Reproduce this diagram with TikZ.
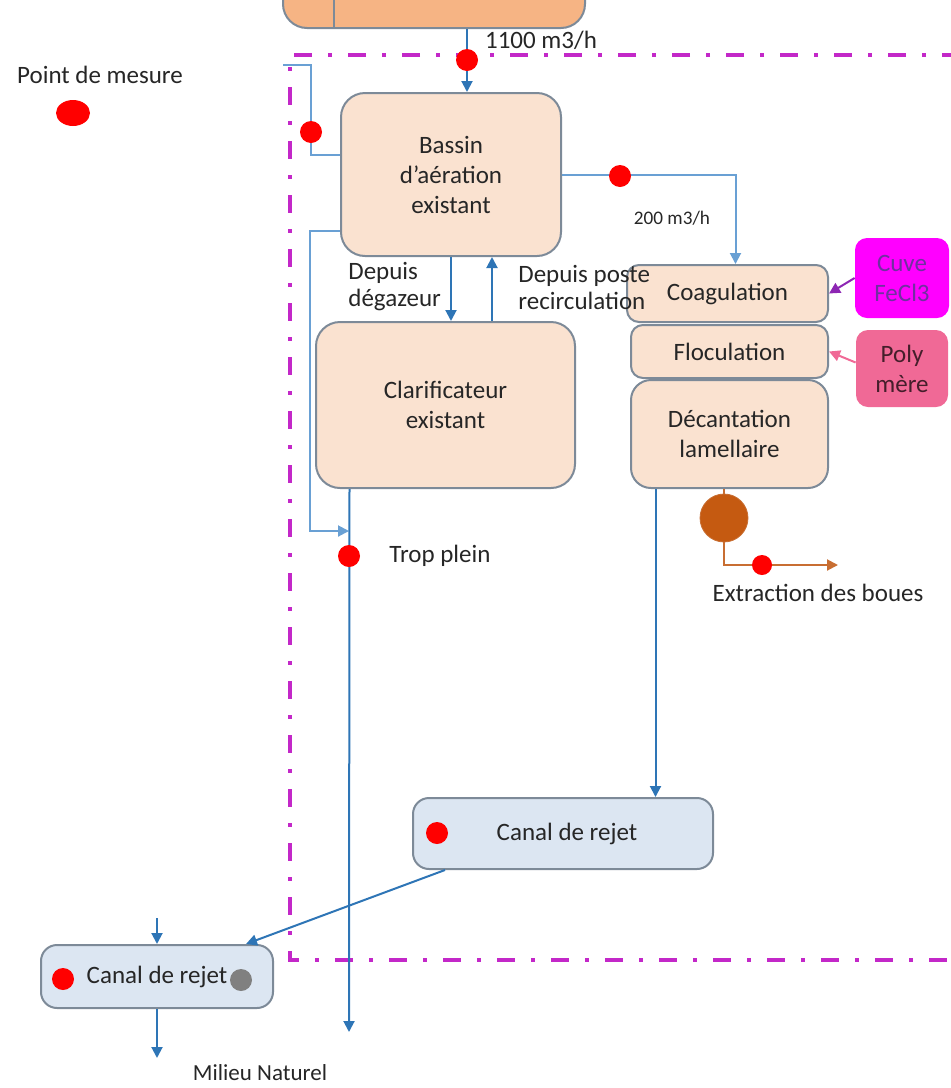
\documentclass[tikz,border=0pt]{standalone}
\usepackage{fontspec}
\setmainfont{Carlito}
\usetikzlibrary{calc, arrows.meta, shapes.geometric}
\definecolor{Peche}{RGB}{250,226,208}
\definecolor{OrangeAmont}{RGB}{246,180,132}
\definecolor{BleuPale}{RGB}{220,230,242}
\definecolor{Bord}{RGB}{125,138,152}
\definecolor{Tuyau}{RGB}{46,117,182}
\definecolor{TuyauClair}{RGB}{105,160,212}
\definecolor{Cadre}{RGB}{195,40,200}
\definecolor{CuveRose}{RGB}{255,0,255}
\definecolor{CuveTexte}{RGB}{112,48,160}
\definecolor{PolyRose}{RGB}{240,105,150}
\definecolor{Boue}{RGB}{197,90,17}
\definecolor{BoueTrait}{RGB}{200,110,50}
\definecolor{Texte}{RGB}{38,38,38}
\newcommand{\TxtSize}{\fontsize{12.5}{15}\selectfont}
\newcommand{\SmallSize}{\fontsize{9.6}{11}\selectfont}
\tikzset{PeachBox/.style={
    rounded corners=12pt,
    draw=Bord,
    line width=1pt,
    fill=Peche,
    align=center,
    inner sep=0pt,
    font=\TxtSize,
    text=Texte
    }
}
\tikzset{SmallPeachBox/.style={
    PeachBox,
    rounded corners=6pt
    }
}
\tikzset{BlueBox/.style={
    PeachBox,
    fill=BleuPale,
    rounded corners=8pt
    }
}
\tikzset{ReactifBox/.style={
    rounded corners=6pt,
    align=center,
    inner sep=0pt,
    font=\TxtSize
    }
}
\tikzset{Pipe/.style={draw=Tuyau, line width=1pt}}
\tikzset{LightPipe/.style={draw=TuyauClair, line width=1pt}}
\tikzset{SludgePipe/.style={draw=BoueTrait, line width=1pt}}
\tikzset{RedDot/.style={circle, fill=red, inner sep=0pt, minimum size=11pt}}
\tikzset{Label/.style={font=\TxtSize, text=Texte, inner sep=0pt}}
\tikzset{Frame/.style={draw=Cadre, line width=1.6pt,
    dash pattern=on 9pt off 8pt on 2pt off 8pt}}

\begin{document}
\begin{tikzpicture}[x=0.5pt, y=-0.5pt, >={Triangle[length=5.5pt,width=5.5pt]}]
    \useasboundingbox (0,0) rectangle (950,1088);

    % legende
    \node (Legende)[Label] at (100,75) {Point de mesure};
    \node (LegendeDot)[ellipse, fill=red, inner sep=0pt, minimum width=17pt, minimum height=13pt] at (73,113) {};

    % limite du projet
    \draw[Frame] (960,55) -- (290,55) -- (290,960) -- (960,960);

    \node (Amont)[draw=Bord, fill=OrangeAmont, line width=1pt, rounded corners=12pt,
        minimum width=151pt, minimum height=40pt, inner sep=0pt] at (434,-12) {};
    \draw[draw=Bord, line width=1pt] ([xshift=26pt]Amont.north west) -- ([xshift=26pt]Amont.south west);

    \node (Bassin)[PeachBox, minimum width=110pt, minimum height=81.5pt] at (451,174.5)
        {Bassin\\ d'aération\\ existant};

    \node (Clarif)[PeachBox, minimum width=129.5pt, minimum height=83pt] at (445.5,405)
        {Clarificateur\\ existant};

    \node (Coag)[SmallPeachBox, minimum width=100.5pt, minimum height=28.5pt] at (727.5,293.5)
        {\raisebox{-4pt}{Coagulation}};
    \node (Floc)[SmallPeachBox, minimum width=98.5pt, minimum height=26.5pt] at (729.5,351.5)
        {Floculation};
    \node (Decant)[PeachBox, rounded corners=10pt, minimum width=98.5pt, minimum height=54pt] at (729.5,434)
        {Décantation\\ lamellaire};

    \node (Cuve)[ReactifBox, fill=CuveRose, text=CuveTexte, minimum width=47pt, minimum height=40pt] at (902,278)
        {Cuve\\ FeCl3};
    \node (Poly)[ReactifBox, fill=PolyRose, text=Texte!80!purple, minimum width=46pt, minimum height=38.5pt] at (902,368.5)
        {Poly\\ mère};

    \node (CanalA)[BlueBox, minimum width=150pt, minimum height=35.5pt] at (563,833.5)
        {\hspace*{4pt}Canal de rejet};
    \node (CanalB)[BlueBox, minimum width=116pt, minimum height=31.5pt] at (157,976.5)
        {Canal de rejet};

    \node (Pompe)[circle, fill=Boue, draw=BoueTrait, inner sep=0pt, minimum size=24pt] at (724,518) {};

    \coordinate (RetA) at (283,65);
    \coordinate (Jonction) at (349,531);
    \coordinate (Rejet) at (349,1032);
    \coordinate (Extraction) at (838,565);
    \coordinate (Arrivee) at (157,918);
    \coordinate (Milieu) at (157,1058);
    \coordinate (P1) at (467,60);
    \coordinate (P2) at (311,132);

    % entree
    \draw[Pipe, ->] (P1 |- Amont.south) -- (P1 |- Bassin.north);
    \node (Debit)[Label] at (541,40) {1100 m3/h};

    % boucles de gauche
    \draw[LightPipe] (RetA) -| (P2) |- ([yshift=10pt]Bassin.west);
    \draw[LightPipe, ->] ([yshift=-28pt]Bassin.west) -- ++(-15pt,0) |- (Jonction);

    % bassin <-> clarificateur
    \draw[Pipe, ->] (Bassin.south) -- (Bassin.south |- Clarif.north);
    \draw[Pipe, <-] ([xshift=20.5pt]Bassin.south) -- ([xshift=20.5pt]Bassin.south |- Clarif.north);
    \node (Degaz)[Label, anchor=west, align=left, font=\fontsize{12.5}{13.5}\selectfont] at (348,287) {Depuis\\ dégazeur};
    \node (Recirc)[Label, anchor=west, align=left, font=\fontsize{12.5}{13.5}\selectfont] at (518,287) {Depuis poste\\ recirculation};

    % trop plein
    \draw[Pipe, ->] ([xshift=-48pt]Clarif.south) -- (Rejet);
    \node (TropPlein)[Label] at (440,556) {Trop plein};

    % file de traitement
    \draw[LightPipe, ->] (Bassin.east) -| ([xshift=4pt]Coag.north);
    \node (Debit2)[Label, font=\SmallSize] at (672,218) {200 m3/h};
    \draw[draw=CuveTexte!80!CuveRose, line width=1pt, ->] (Cuve.west) -- (Coag.east);
    \draw[draw=PolyRose, line width=1pt, ->] ([yshift=3pt]Poly.west) -- (Floc.east);
    \draw[Pipe, ->] ([xshift=-37pt]Decant.south) -- ([xshift=-37pt]Decant.south |- CanalA.north);

    % boues
    \draw[SludgePipe] (Pompe) -- (Pompe |- Decant.south);
    \draw[SludgePipe, ->] (Pompe.south) |- (Extraction);
    \node (Boues)[Label] at (818,593) {Extraction des boues};

    % rejet
    \draw[Pipe, ->] ([xshift=16.5pt]CanalA.south west) -- ([xshift=-14pt]CanalB.north east);
    \draw[Pipe, ->] (Arrivee) -- (CanalB.north);
    \draw[Pipe, ->] (CanalB.south) -- (Milieu);
    \node (Naturel)[Label, font=\fontsize{11.5}{13}\selectfont] at (260,1073) {Milieu Naturel};

    % points de mesure
    \node (M1)[RedDot] at (P1) {};
    \node (M2)[RedDot] at (P2) {};
    \node (M3)[RedDot] at (349,556) {};
    \node (M4)[RedDot] at (620,176) {};
    \node (M5)[RedDot, minimum size=10pt] at (762,565) {};
    \node (M6)[RedDot] at (437,833) {};
    \node (M7)[RedDot] at (63,979) {};
    \node (G1)[circle, fill=gray, inner sep=0pt, minimum size=11pt] at (241,980) {};

\end{tikzpicture}
\end{document}
